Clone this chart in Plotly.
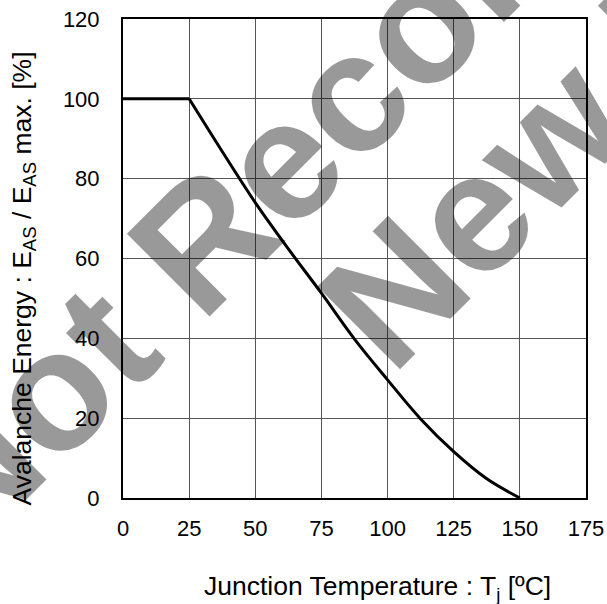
import plotly.graph_objects as go

# Avalanche energy derating vs. junction temperature
flat_tj = [0, 25]
flat_pct = [100, 100]

derate_tj = [25, 37.5, 50, 62.5, 75, 87.5, 100, 112.5, 125, 137.5, 150]
derate_pct = [100, 86.8, 74.0, 62.4, 51.3, 39.8, 29.6, 19.8, 11.6, 4.8, 0]

x_ticks = [0, 25, 50, 75, 100, 125, 150, 175]
y_ticks = [0, 20, 40, 60, 80, 100, 120]

watermark_lines = ["Not Recommended for", "New Design"]

FONT = "Liberation Sans, Arial, sans-serif"

fig = go.Figure()
fig.add_trace(go.Scatter(
    x=flat_tj, y=flat_pct, mode="lines",
    line=dict(color="black", width=3), showlegend=False, hoverinfo="skip",
))
fig.add_trace(go.Scatter(
    x=derate_tj, y=derate_pct, mode="lines",
    line=dict(color="black", width=3, shape="spline", smoothing=1.0),
    showlegend=False, hoverinfo="skip",
))

# plot area in pixels: x 123..586, y 19..498
L, R, T, B = 123, 21, 19, 106
W, H = 607 - L - R, 604 - T - B


def px_to_paper(px, py):
    return (px - L) / W, (T + H - py) / H


# translucent watermark: black at 40 % gives grey on white while
# the curve, grid and labels underneath stay dark
centers = [(570.5, -128.1), (690.5, -5.2)]
for text, (cx, cy) in zip(watermark_lines, centers):
    px, py = px_to_paper(cx, cy)
    fig.add_annotation(
        text="<b>" + text + "</b>", xref="paper", yref="paper",
        x=px, y=py, xanchor="center", yanchor="middle",
        textangle=-45, showarrow=False, borderpad=0,
        font=dict(family=FONT, size=170, color="rgba(0,0,0,0.4)"),
    )

axis_common = dict(
    showline=True, linewidth=2, linecolor="black", mirror=True,
    showgrid=True, gridcolor="#555555", gridwidth=1,
    zeroline=False, ticks="", automargin=False,
    tickfont=dict(family=FONT, size=22, color="black"),
)

fig.update_xaxes(range=[0, 175], tickvals=x_ticks, ticklabelstandoff=10, **axis_common)
fig.update_yaxes(range=[0, 120], tickvals=y_ticks, ticklabelstandoff=17, **axis_common)

xt = px_to_paper(377, 588)
yt = px_to_paper(23.5, 279)
fig.add_annotation(
    text="Junction Temperature : T<sub>j</sub> [ºC]",
    xref="paper", yref="paper", x=xt[0], y=xt[1],
    xanchor="center", yanchor="middle", showarrow=False,
    font=dict(family=FONT, size=26.5, color="black"),
)
fig.add_annotation(
    text="Avalanche Energy : E<sub>AS</sub> / E<sub>AS</sub> max. [%]",
    xref="paper", yref="paper", x=yt[0], y=yt[1], textangle=-90,
    xanchor="center", yanchor="middle", showarrow=False,
    font=dict(family=FONT, size=26.5, color="black"),
)

fig.update_layout(
    width=607, height=604,
    margin=dict(l=L, r=R, t=T, b=B),
    paper_bgcolor="white", plot_bgcolor="white",
    showlegend=False,
)

fig.write_html("out.html")
